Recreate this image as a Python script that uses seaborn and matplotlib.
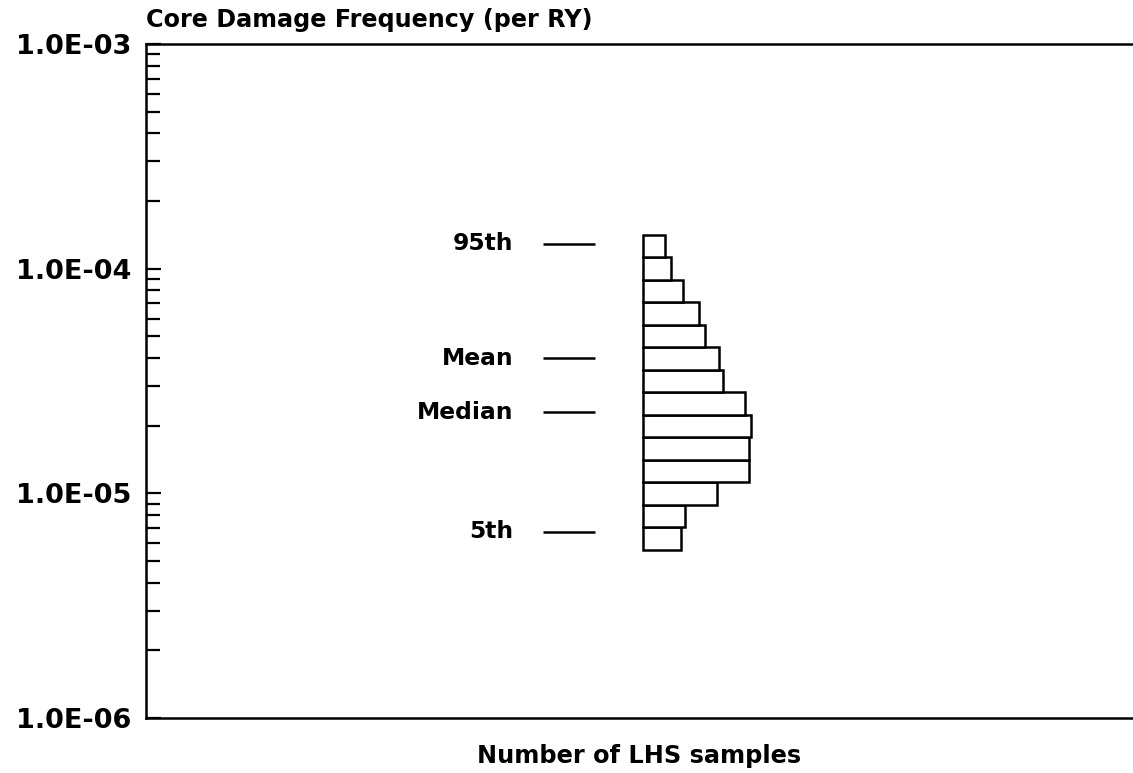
import numpy as np
import pandas as pd
import matplotlib
matplotlib.use("Agg")
import matplotlib.pyplot as plt
import matplotlib.transforms as mtransforms
from matplotlib.ticker import LogLocator, FixedLocator, FuncFormatter, NullFormatter
import seaborn as sns

# ---- data ----
bin_edges_log = [-5.25, -5.15, -5.05, -4.95, -4.85, -4.75, -4.65, -4.55,
                 -4.45, -4.35, -4.25, -4.15, -4.05, -3.95, -3.85]
bin_counts = [19, 21, 37, 53, 53, 54, 51, 40, 38, 31, 28, 20, 14, 11]
stat_names = ["95th", "Mean", "Median", "5th"]
stat_values = [1.29e-4, 4.0e-5, 2.29e-5, 6.75e-6]
ytick_values = [1e-6, 1e-5, 1e-4, 1e-3]
ytick_labels = ["1.0E-06", "1.0E-05", "1.0E-04", "1.0E-03"]
title_text = "Core Damage Frequency (per RY)"
xlabel_text = "Number of LHS samples"

edges = np.power(10.0, np.array(bin_edges_log))
centers = np.sqrt(edges[:-1] * edges[1:])
df = pd.DataFrame({"cdf": centers, "n": bin_counts})

sns.set_theme(style="white")
plt.rcParams["font.family"] = ["DejaVu Sans"]
plt.rcParams["font.weight"] = "bold"

fig = plt.figure(figsize=(11.33, 7.73), dpi=100)
ax = fig.add_axes([146 / 1133, 1 - 718 / 773, 1 - 146 / 1133, (718 - 44) / 773])

# with log_scale, seaborn takes explicit bin edges in log10 units
sns.histplot(data=df, y="cdf", weights="n", bins=list(bin_edges_log),
             log_scale=(False, True),
             stat="count", element="bars", fill=True, color="white",
             edgecolor="black", linewidth=1.8, alpha=1, ax=ax)

ax.set_yscale("log")
ax.set_ylim(1e-6, 1e-3)
ax.set_xlim(-248.5, 245)

# spines
for s in ["left", "top", "bottom"]:
    ax.spines[s].set_visible(True)
    ax.spines[s].set_color("black")
    ax.spines[s].set_linewidth(1.8)
ax.spines["right"].set_visible(False)

# ticks
ax.set_xticks([])
ax.yaxis.set_major_locator(FixedLocator(ytick_values))
ax.yaxis.set_major_formatter(FuncFormatter(
    lambda v, p: ytick_labels[ytick_values.index(min(ytick_values, key=lambda t: abs(np.log10(t) - np.log10(v))))]))
ax.yaxis.set_minor_locator(LogLocator(base=10, subs=np.arange(2, 10), numticks=20))
ax.yaxis.set_minor_formatter(NullFormatter())
ax.tick_params(axis="y", which="major", direction="in", length=11, width=1.6,
               left=True, labelsize=19.5, pad=10.8, colors="black")
ax.tick_params(axis="y", which="minor", direction="in", length=10, width=1.6,
               left=True, colors="black")
for lab in ax.get_yticklabels():
    lab.set_fontweight("bold")

ax.set_xlabel(xlabel_text, fontsize=17.3, fontweight="bold", labelpad=19, color="black")
ax.set_ylabel("")

fig.text(146 / 1133, 1 - 27 / 773, title_text, fontsize=17.2, fontweight="bold",
         ha="left", va="baseline", color="black")

# percentile markers
trans = mtransforms.blended_transform_factory(ax.transAxes, ax.transData)
x0, x1 = (542.7 - 146) / 987, (595 - 146) / 987
xl = (513.3 - 146) / 987
for name, val in zip(stat_names, stat_values):
    ax.plot([x0, x1], [val, val], color="black", lw=1.8, transform=trans,
            solid_capstyle="butt")
    ax.text(xl, val, name, transform=trans, ha="right", va="center",
            fontsize=16.8, fontweight="bold", color="black")

fig.savefig("out.png", dpi=100)
